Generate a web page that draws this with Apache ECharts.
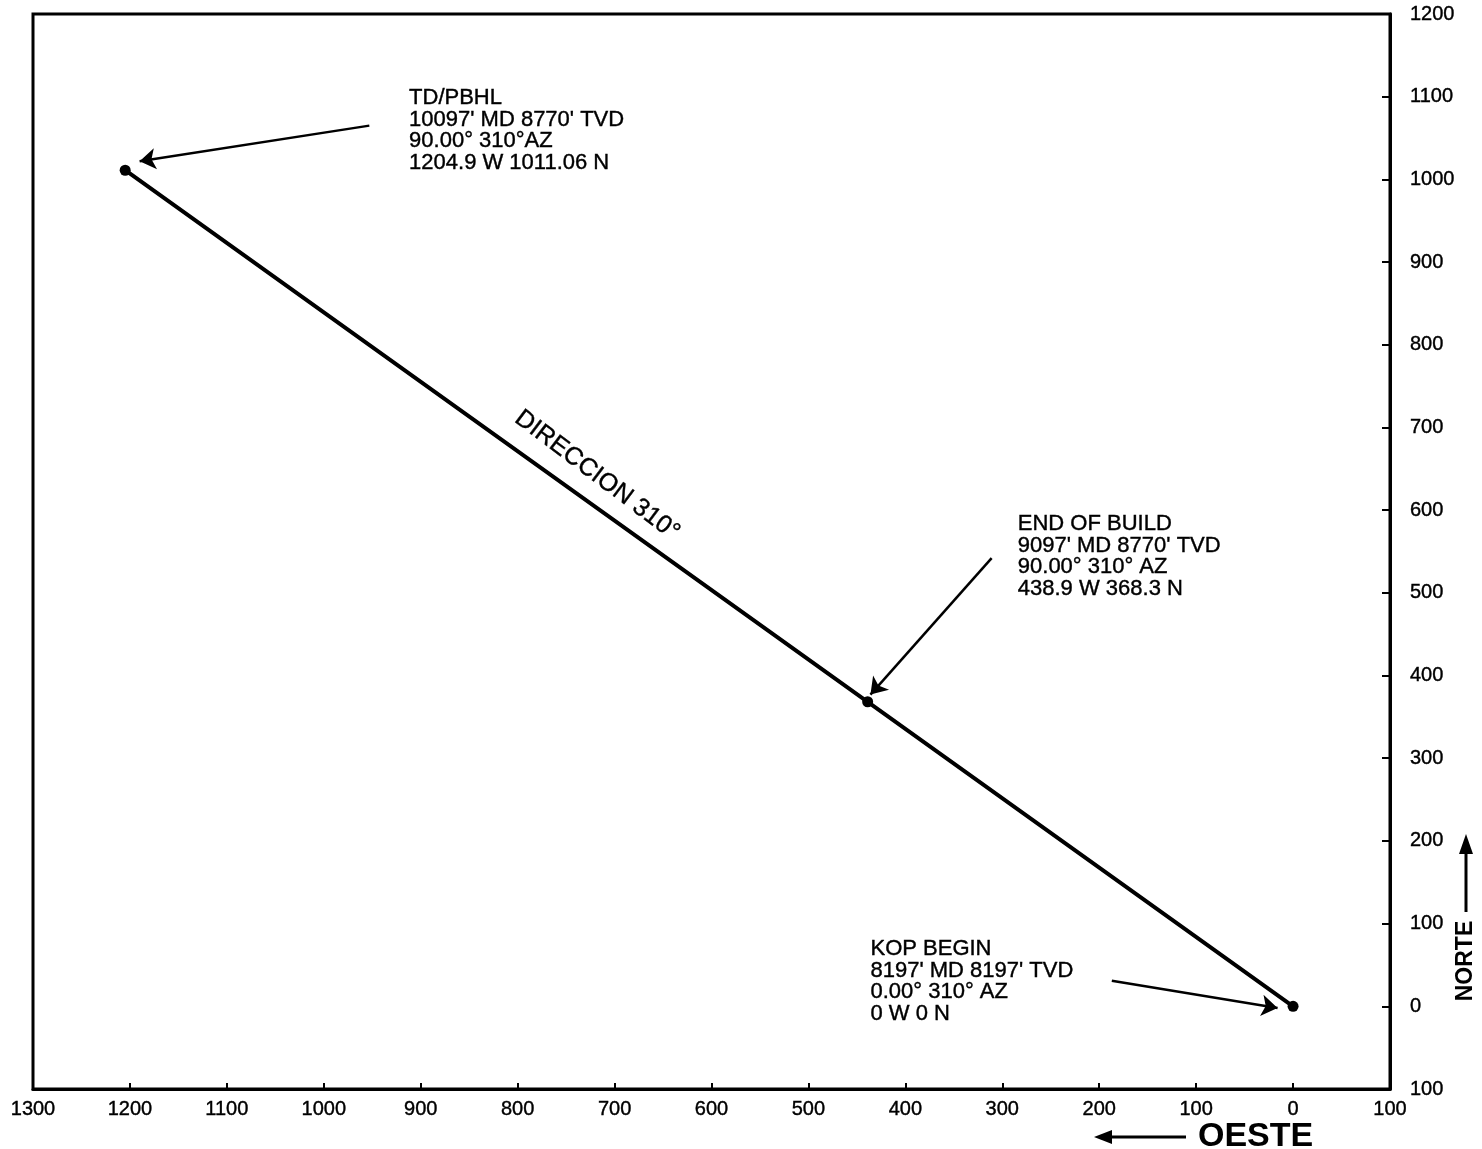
<!DOCTYPE html>
<html>
<head>
<meta charset="utf-8">
<script src="https://cdn.jsdelivr.net/npm/echarts@6/dist/echarts.min.js"></script>
<style>
html,body{margin:0;padding:0;background:#fff;}
#chart{width:1482px;height:1149px;}
</style>
</head>
<body>
<div id="chart"></div>
<script>
// ---- data ----
const stationW = [0, 438.9, 1204.9];        // Oeste (W)
const stationN = [0, 368.3, 1011.06];       // Norte (N)
const stationText = [
  ['KOP BEGIN', "8197' MD 8197' TVD", '0.00° 310° AZ', '0 W 0 N'],
  ['END OF BUILD', "9097' MD 8770' TVD", '90.00° 310° AZ', '438.9 W 368.3 N'],
  ['TD/PBHL', "10097' MD 8770' TVD", '90.00° 310°AZ', '1204.9 W 1011.06 N']
];
// text block anchor (top-left) in data coords
const textAnchorW = [436, 284, 912];
const textAnchorN = [82, 596, 1111];
// annotation arrows (from -> to) in data coords
const arrowFromW = [187, 311, 953];
const arrowFromN = [31, 542, 1065];
const arrowToW = [16, 436, 1190];
const arrowToN = [-2, 377, 1022];
// direction label
const dirLabel = 'DIRECCION 310°';
const dirW = 718, dirN = 642;
// axis
const xMin = -100, xMax = 1300, yMin = -100, yMax = 1200, step = 100;

const FONT = '"Liberation Sans", Arial, sans-serif';
const chart = echarts.init(document.getElementById('chart'));

const pathData = stationW.map((w, i) => [w, stationN[i]]);
const textData = stationText.map((t, i) => ({ value: [textAnchorW[i], textAnchorN[i]], lines: t }));
const arrowData = arrowFromW.map((w, i) => ({ coords: [[w, arrowFromN[i]], [arrowToW[i], arrowToN[i]]] }));

const heavy = { textBorderColor: '#000', textBorderWidth: 0.4 };

chart.setOption({
  animation: false,
  backgroundColor: '#fff',
  grid: { left: 33, right: 92, top: 14, bottom: 60, show: true, borderColor: '#000', borderWidth: 3, backgroundColor: 'transparent' },
  xAxis: {
    type: 'value', inverse: true, min: xMin, max: xMax, interval: step, position: 'bottom',
    axisLine: { show: true, onZero: false, lineStyle: { color: '#000', width: 3 } },
    axisTick: { show: true, inside: true, length: 6, lineStyle: { color: '#000', width: 2 } },
    axisLabel: Object.assign({ color: '#000', fontSize: 20, fontFamily: FONT, margin: 10, formatter: v => String(Math.abs(v)) }, heavy),
    splitLine: { show: false }
  },
  yAxis: {
    type: 'value', min: yMin, max: yMax, interval: step, position: 'right',
    axisLine: { show: true, onZero: false, lineStyle: { color: '#000', width: 3 } },
    axisTick: { show: true, inside: true, length: 8, lineStyle: { color: '#000', width: 2 } },
    axisLabel: Object.assign({ color: '#000', fontSize: 20, fontFamily: FONT, margin: 20, formatter: v => String(Math.abs(v)) }, heavy),
    splitLine: { show: false }
  },
  series: [
    {
      type: 'line', data: pathData, symbol: 'circle', symbolSize: 11, showSymbol: true,
      lineStyle: { color: '#000', width: 4 }, itemStyle: { color: '#000' }, z: 3
    },
    {
      type: 'lines', coordinateSystem: 'cartesian2d', data: arrowData,
      symbol: ['none', 'arrow'], symbolSize: [0, 16],
      lineStyle: { color: '#000', width: 2.5, opacity: 1 }, z: 4
    },
    {
      type: 'scatter', data: textData, symbolSize: 0, silent: true,
      itemStyle: { opacity: 1, color: '#000' },
      label: Object.assign({
        show: true, position: [0, 0], align: 'left', verticalAlign: 'top',
        color: '#000', fontSize: 22, fontFamily: FONT, lineHeight: 21.5,
        formatter: p => p.data.lines.join('\n')
      }, heavy)
    },
    {
      type: 'scatter', data: [[dirW, dirN]], symbolSize: 0, silent: true,
      itemStyle: { opacity: 1, color: '#000' },
      label: Object.assign({
        show: true, position: 'inside', align: 'center', verticalAlign: 'middle', rotate: -37,
        color: '#000', fontSize: 25, fontFamily: FONT, formatter: dirLabel
      }, heavy)
    }
  ],
  graphic: [
    // OESTE with left arrow
    { type: 'line', shape: { x1: 1186, y1: 1137, x2: 1110, y2: 1137 }, style: { stroke: '#000', lineWidth: 3 } },
    { type: 'polygon', shape: { points: [[1094, 1137], [1112, 1130], [1112, 1144]] }, style: { fill: '#000' } },
    { type: 'text', left: 1198, top: 1120, style: { text: 'OESTE', fontSize: 34, fontWeight: 'bold', fontFamily: FONT, fill: '#000' } },
    // NORTE with up arrow
    { type: 'line', shape: { x1: 1466, y1: 912, x2: 1466, y2: 852 }, style: { stroke: '#000', lineWidth: 3 } },
    { type: 'polygon', shape: { points: [[1466, 834], [1459, 854], [1473, 854]] }, style: { fill: '#000' } },
    { type: 'text', x: 1466, y: 961, rotation: Math.PI / 2,
      style: { text: 'NORTE', fontSize: 23, fontWeight: 'bold', fontFamily: FONT, fill: '#000', align: 'center', verticalAlign: 'middle' } }
  ]
});
</script>
</body>
</html>
